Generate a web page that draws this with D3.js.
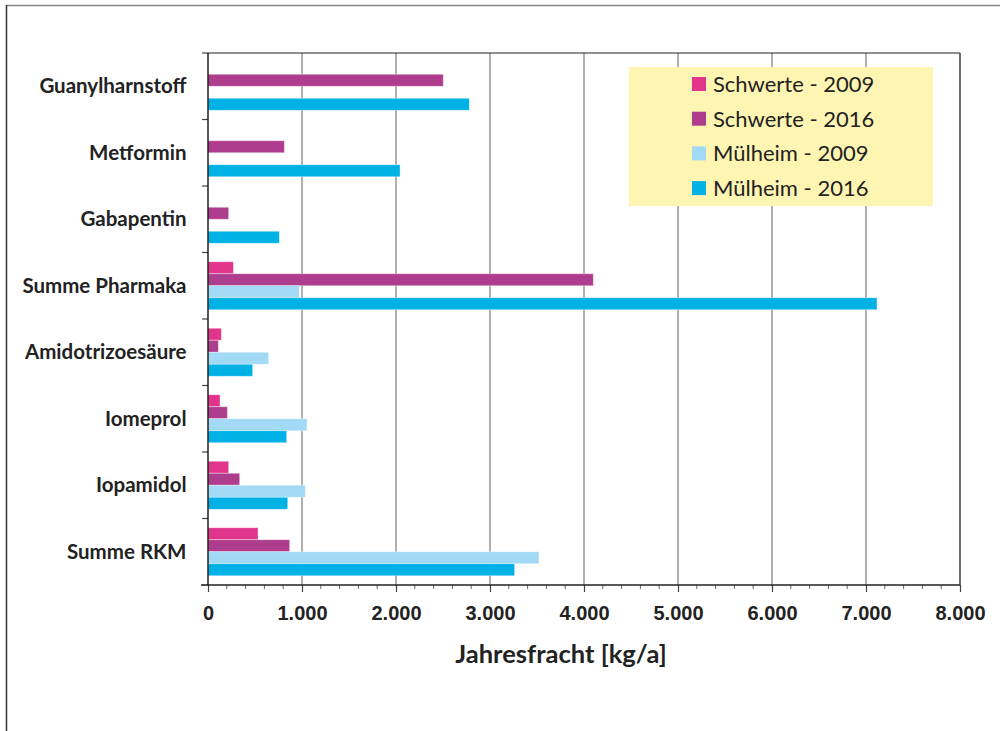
<!DOCTYPE html>
<html>
<head>
<meta charset="utf-8">
<script src="https://cdn.jsdelivr.net/npm/d3@7"></script>
<style>
  body { margin: 0; background: #fff; }
  svg { display: block; }
  .cat-label { font-family: Lato, 'Open Sans', sans-serif; font-weight: 700; font-size: 20.5px; fill: #222; }
  .tick-label { font-family: 'Liberation Sans', Arial, sans-serif; font-weight: 700; font-size: 20px; fill: #222; }
  .axis-title { font-family: Lato, 'Open Sans', sans-serif; font-weight: 700; font-size: 25.5px; fill: #222; }
  .legend-text { font-family: Lato, 'Open Sans', sans-serif; font-size: 22px; fill: #222; }
</style>
</head>
<body>
<div id="chart"></div>
<script>
// categories, top to bottom
const categories = ['Guanylharnstoff', 'Metformin', 'Gabapentin', 'Summe Pharmaka',
  'Amidotrizoesäure', 'Iomeprol', 'Iopamidol', 'Summe RKM'];
const seriesNames = ['Schwerte - 2009', 'Schwerte - 2016', 'Mülheim - 2009', 'Mülheim - 2016'];
const schwerte2009 = [0, 0, 0, 270, 142, 128, 220, 532];
const schwerte2016 = [2503, 812, 220, 4099, 110, 206, 337, 869];
const muelheim2009 = [0, 0, 0, 971, 645, 1053, 1035, 3521];
const muelheim2016 = [2780, 2043, 759, 7117, 475, 837, 848, 3262];
const xTicks = [0, 1000, 2000, 3000, 4000, 5000, 6000, 7000, 8000];
const colors = ['#E0358B', '#AE3D8D', '#A2D9F5', '#00B1E6'];

const seriesValues = [schwerte2009, schwerte2016, muelheim2009, muelheim2016];
const data = [];
categories.forEach((c, i) => {
  seriesNames.forEach((s, j) => {
    data.push({ category: c, group: s, value: seriesValues[j][i], color: colors[j] });
  });
});

const W = 1000, H = 731;
const margin = { top: 53, right: 40, bottom: 146, left: 208 };
const width = W - margin.left - margin.right;
const height = H - margin.top - margin.bottom;

const svgRoot = d3.select('#chart').append('svg')
  .attr('width', W)
  .attr('height', H);

// outer frame (cut at right/bottom in the picture)
svgRoot.append('line').attr('x1', 6).attr('x2', W).attr('y1', 5.5).attr('y2', 5.5)
  .attr('stroke', '#888').attr('stroke-width', 1.5);
svgRoot.append('line').attr('x1', 6.5).attr('x2', 6.5).attr('y1', 5).attr('y2', H)
  .attr('stroke', '#333').attr('stroke-width', 1.5);

const svg = svgRoot.append('g')
  .attr('transform', `translate(${margin.left}, ${margin.top})`);

const x = d3.scaleLinear()
  .domain([0, 8000])
  .range([0, width]);

const y = d3.scaleBand()
  .domain(categories)
  .range([0, height])
  .padding(0);

const ySub = d3.scaleBand()
  .domain(seriesNames)
  .range([0, y.bandwidth()])
  .paddingInner(0)
  .paddingOuter(0.77);

// vertical grid
svg.selectAll('.grid')
  .data(xTicks.slice(1))
  .enter()
  .append('line')
  .attr('class', 'grid')
  .attr('x1', d => x(d))
  .attr('x2', d => x(d))
  .attr('y1', 0)
  .attr('y2', height)
  .attr('stroke', '#7a7a7a')
  .attr('stroke-width', 1.2);

// plot frame top/right
svg.append('line').attr('x1', 0).attr('x2', width).attr('y1', 0).attr('y2', 0)
  .attr('stroke', '#222').attr('stroke-width', 1.2);
svg.append('line').attr('x1', width).attr('x2', width).attr('y1', 0).attr('y2', height)
  .attr('stroke', '#444').attr('stroke-width', 1.2);

// bars
const barGroup = svg.selectAll('.bar-group')
  .data(categories)
  .enter()
  .append('g')
  .attr('class', 'bar-group')
  .attr('transform', d => `translate(0, ${y(d)})`);

barGroup.selectAll('rect')
  .data(category => data.filter(d => d.category === category && d.value > 0))
  .enter()
  .append('rect')
  .attr('x', 0)
  .attr('y', d => ySub(d.group))
  .attr('width', d => x(d.value))
  .attr('height', ySub.bandwidth())
  .attr('fill', d => d.color)
  .attr('stroke', 'rgba(255,255,255,0.45)')
  .attr('stroke-width', 0.8);

// x axis with minor ticks
const xAxis = d3.axisBottom(x)
  .tickValues(xTicks)
  .tickSize(7)
  .tickFormat(d => d3.format(',')(d).replace(/,/g, '.'));

const gx = svg.append('g')
  .attr('transform', `translate(0, ${height})`)
  .call(xAxis);
gx.select('.domain').remove();
gx.selectAll('.tick line').attr('stroke', '#444').attr('stroke-width', 1.2);
gx.selectAll('.tick text')
  .attr('class', 'tick-label')
  .attr('dy', 0)
  .attr('y', 35);

const minor = d3.range(0, 8001, 200).filter(v => v % 1000 !== 0);
svg.append('g')
  .attr('transform', `translate(0, ${height})`)
  .selectAll('line')
  .data(minor)
  .enter()
  .append('line')
  .attr('x1', d => x(d))
  .attr('x2', d => x(d))
  .attr('y1', 0)
  .attr('y2', 4)
  .attr('stroke', '#666')
  .attr('stroke-width', 1);

svg.append('line')
  .attr('x1', -7).attr('x2', width)
  .attr('y1', height).attr('y2', height)
  .attr('stroke', '#222').attr('stroke-width', 1.3);

// y axis: separators between categories
const sep = categories.map(c => y(c)).concat([height]);
svg.selectAll('.ysep')
  .data(sep)
  .enter()
  .append('line')
  .attr('class', 'ysep')
  .attr('x1', -6)
  .attr('x2', 0)
  .attr('y1', d => d)
  .attr('y2', d => d)
  .attr('stroke', '#444')
  .attr('stroke-width', 1.2);
svg.append('line')
  .attr('x1', 0).attr('x2', 0).attr('y1', 0).attr('y2', height)
  .attr('stroke', '#111').attr('stroke-width', 1.4);

svg.selectAll('.cat-label')
  .data(categories)
  .enter()
  .append('text')
  .attr('class', 'cat-label')
  .attr('x', -21.5)
  .attr('y', d => y(d) + y.bandwidth() / 2)
  .attr('dy', '0.35em')
  .attr('text-anchor', 'end')
  .text(d => d);

// axis title
svg.append('text')
  .attr('class', 'axis-title')
  .attr('x', 353)
  .attr('y', height + 78)
  .attr('text-anchor', 'middle')
  .text('Jahresfracht [kg/a]');

// legend
const legend = svg.append('g')
  .attr('transform', `translate(${629 - margin.left}, ${67 - margin.top})`);
legend.append('rect')
  .attr('width', 304)
  .attr('height', 139)
  .attr('fill', '#FFF5B3');

const item = legend.selectAll('.legend-item')
  .data(seriesNames)
  .enter()
  .append('g')
  .attr('class', 'legend-item')
  .attr('transform', (d, i) => `translate(63, ${17 + i * 34.7})`);
item.append('rect')
  .attr('x', 0)
  .attr('y', -7)
  .attr('width', 14)
  .attr('height', 14)
  .attr('fill', (d, i) => colors[i]);
item.append('text')
  .attr('class', 'legend-text')
  .attr('x', 21)
  .attr('y', 0)
  .attr('dy', '0.36em')
  .text(d => d);
</script>
</body>
</html>
